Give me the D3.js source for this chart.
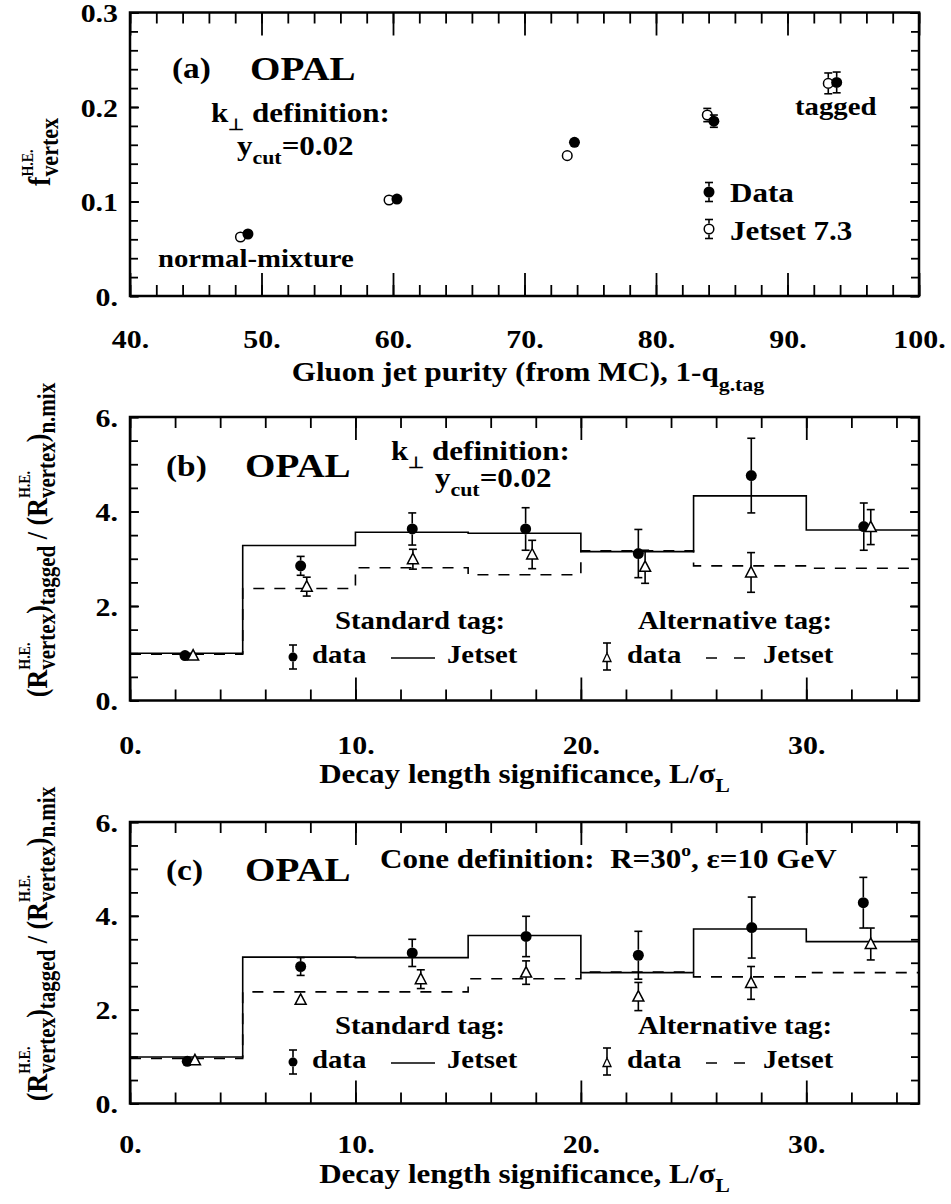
<!DOCTYPE html>
<html><head><meta charset="utf-8">
<script src="https://cdn.jsdelivr.net/npm/d3@7"></script>
<style>
body{margin:0;background:#fff}
svg text{font-family:"Liberation Serif","Times New Roman",Times,serif;font-weight:bold;fill:#000;white-space:pre}
</style>
</head><body>
<svg id="c" width="951" height="1204"></svg>
<script>
// ---------------- DATA ----------------
// Panel (a): fraction of high-energy vertices vs gluon jet purity
const purityDataX = [48.97, 60.3, 73.8, 84.4, 93.74];
const purityDataY = [0.0656, 0.1026, 0.1626, 0.185, 0.226];
const purityDataErr = [0.002, 0.002, 0.002, 0.0065, 0.011];
const purityMcX = [48.4, 59.7, 73.25, 83.9, 93.1];
const purityMcY = [0.0624, 0.1016, 0.1485, 0.1915, 0.225];
const purityMcErr = [0.002, 0.002, 0.002, 0.007, 0.011];
const purityTicks = [40, 50, 60, 70, 80, 90, 100];
const fracTicks = [0, 0.1, 0.2, 0.3];

// Panels (b),(c): decay length significance bins
const binEdges = [0, 5, 10, 15, 20, 25, 30, 35];
const decayTicks = [0, 10, 20, 30];
const ratioTicks = [0, 2, 4, 6];

// (b) k_perp definition
const bStdJetset = [1.0, 3.28, 3.56, 3.54, 3.15, 4.33, 3.61];
const bAltJetset = [0.98, 2.37, 2.81, 2.66, 3.17, 2.85, 2.80];
const bStdX = [2.44, 7.57, 12.52, 17.55, 22.55, 27.56, 32.55];
const bStdY = [0.95, 2.85, 3.63, 3.63, 3.11, 4.76, 3.68];
const bStdErr = [0.05, 0.2, 0.34, 0.45, 0.51, 0.79, 0.5];
const bAltX = [2.8, 7.84, 12.55, 17.84, 22.85, 27.55, 32.86];
const bAltY = [0.95, 2.41, 2.99, 3.09, 2.83, 2.71, 3.67];
const bAltErr = [0.05, 0.2, 0.21, 0.3, 0.35, 0.42, 0.37];

// (c) cone definition
const cStdJetset = [0.99, 3.12, 3.11, 3.58, 2.79, 3.72, 3.45];
const cAltJetset = [0.96, 2.38, 2.38, 2.66, 2.80, 2.70, 2.79];
const cStdX = [2.54, 7.57, 12.52, 17.57, 22.55, 27.58, 32.53];
const cStdY = [0.90, 2.92, 3.21, 3.56, 3.16, 3.75, 4.28];
const cStdErr = [0.04, 0.19, 0.29, 0.43, 0.51, 0.65, 0.54];
const cAltX = [2.88, 7.57, 12.9, 17.57, 22.55, 27.55, 32.86];
const cAltY = [0.92, 2.21, 2.65, 2.79, 2.28, 2.57, 3.40];
const cAltErr = [0.04, 0.1, 0.2, 0.25, 0.3, 0.35, 0.34];

// ---------------- DRAWING ----------------
const SX = 1.15;
const svg = d3.select("#c");
svg.append("rect").attr("width", 951).attr("height", 1204).attr("fill", "#fff");

function rich(parent, x, y, segs, opt = {}) {
  const rot = opt.rotate || 0, anchor = opt.anchor || "start";
  const sx = opt.sx !== undefined ? opt.sx : SX, sy = opt.sy !== undefined ? opt.sy : 1;
  const g = parent.append("g").attr("transform", `translate(${x},${y}) rotate(${rot}) scale(${sx},${sy})`);
  let cx = 0, prevStart = 0, prevW = 0;
  const items = [];
  segs.forEach(s => {
    const t = g.append("text").attr("font-size", s.s).attr("y", s.dy || 0).text(s.t);
    const w = t.node().getComputedTextLength();
    if (s.stack) { t.attr("x", prevStart); const adv = Math.max(prevW, w); cx = prevStart + adv; prevW = adv; }
    else { t.attr("x", cx); prevStart = cx; prevW = w; cx += w; }
    items.push(t);
  });
  const off = anchor === "middle" ? -cx / 2 : anchor === "end" ? -cx : 0;
  items.forEach(t => t.attr("x", +t.attr("x") + off));
  return g;
}

function range(a, b, s) { const r = []; for (let v = a; v <= b + 1e-9; v += s) r.push(+v.toFixed(6)); return r; }

function frame(xs, ys, xMajor, xMinor, yMajor, yMinor, xFmt, yFmt, labelOff) {
  const [x0, x1] = xs.range(); const [yb, yt] = ys.range();
  const g = svg.append("g");
  const mk = (axis, tx, ty) => {
    const a = g.append("g").attr("transform", `translate(${tx},${ty})`).call(axis);
    a.select(".domain").remove();
    a.selectAll("line").attr("stroke", "#000").attr("stroke-width", 1.8);
    return a;
  };
  mk(d3.axisBottom(xs).tickValues(xMinor).tickSize(-11).tickFormat(""), 0, yb);
  const bx = mk(d3.axisBottom(xs).tickValues(xMajor).tickSize(-23).tickFormat(xFmt), 0, yb);
  bx.selectAll("text").attr("y", 0).attr("dy", null).attr("font-size", 26)
    .attr("transform", `translate(0,${labelOff}) scale(${SX},1)`);
  mk(d3.axisTop(xs).tickValues(xMinor).tickSize(-11).tickFormat(""), 0, yt);
  mk(d3.axisTop(xs).tickValues(xMajor).tickSize(-23).tickFormat(""), 0, yt);
  mk(d3.axisLeft(ys).tickValues(yMinor).tickSize(-8).tickFormat(""), x0, 0);
  const ly = mk(d3.axisLeft(ys).tickValues(yMajor).tickSize(-9).tickFormat(yFmt), x0, 0);
  ly.selectAll("text").attr("x", 0).attr("dy", "0.35em").attr("font-size", 26)
    .attr("transform", `translate(-12,0) scale(${SX},1)`);
  mk(d3.axisRight(ys).tickValues(yMinor).tickSize(-8).tickFormat(""), x1, 0);
  mk(d3.axisRight(ys).tickValues(yMajor).tickSize(-9).tickFormat(""), x1, 0);
  g.append("rect").attr("x", x0).attr("y", yt).attr("width", x1 - x0).attr("height", yb - yt)
    .attr("fill", "none").attr("stroke", "#000").attr("stroke-width", 2.5);
}

function errBar(g, px, py, top, bot, rt, rb) {
  const cap = 4;
  if (py - top > rt + 0.5) {
    g.append("line").attr("x1", px).attr("x2", px).attr("y1", py - rt).attr("y2", top).attr("stroke", "#000").attr("stroke-width", 1.6);
    g.append("line").attr("x1", px - cap).attr("x2", px + cap).attr("y1", top).attr("y2", top).attr("stroke", "#000").attr("stroke-width", 1.6);
  }
  if (bot - py > rb + 0.5) {
    g.append("line").attr("x1", px).attr("x2", px).attr("y1", py + rb).attr("y2", bot).attr("stroke", "#000").attr("stroke-width", 1.6);
    g.append("line").attr("x1", px - cap).attr("x2", px + cap).attr("y1", bot).attr("y2", bot).attr("stroke", "#000").attr("stroke-width", 1.6);
  }
}
function circlePts(xs, ys, X, Y, E, filled, r) {
  const g = svg.append("g");
  X.forEach((xv, i) => {
    const px = xs(xv), py = ys(Y[i]);
    errBar(g, px, py, ys(Y[i] + E[i]), ys(Y[i] - E[i]), r, r);
    g.append("circle").attr("cx", px).attr("cy", py).attr("r", filled ? r : r - 0.7)
      .attr("fill", filled ? "#000" : "#fff").attr("stroke", "#000").attr("stroke-width", filled ? 0 : 1.5);
  });
}
function triPts(xs, ys, X, Y, E) {
  const g = svg.append("g");
  X.forEach((xv, i) => {
    const px = xs(xv), py = ys(Y[i]);
    errBar(g, px, py, ys(Y[i] + E[i]), ys(Y[i] - E[i]), 6, 4.5);
    g.append("path").attr("d", `M${px},${py - 6}L${px - 5.5},${py + 4.5}L${px + 5.5},${py + 4.5}Z`)
      .attr("fill", "#fff").attr("stroke", "#000").attr("stroke-width", 1.5);
  });
}
function hist(xs, ys, vals, dashed) {
  const pts = binEdges.map((e, i) => [e, vals[Math.min(i, vals.length - 1)]]);
  svg.append("path").attr("d", d3.line().x(d => xs(d[0])).y(d => ys(d[1])).curve(d3.curveStepAfter)(pts))
    .attr("fill", "none").attr("stroke", "#000").attr("stroke-width", 1.6)
    .attr("stroke-dasharray", dashed ? "11,10" : null);
}

const fmt0 = v => (v === 0 ? "0." : (Number.isInteger(v) ? v + "." : String(v)));

// ---------- Panel (a) ----------
const aX = d3.scaleLinear().domain([40, 100]).range([130, 919]);
const aY = d3.scaleLinear().domain([0, 0.3]).range([296, 12.5]);
frame(aX, aY, purityTicks, range(40, 100, 2), fracTicks, range(0, 0.3, 0.02), fmt0, fmt0, 52);
circlePts(aX, aY, purityMcX, purityMcY, purityMcErr, false, 5.5);
circlePts(aX, aY, purityDataX, purityDataY, purityDataErr, true, 5.5);
rich(svg, 172, 78, [{ t: "(a)", s: 29 }]);
rich(svg, 250, 80, [{ t: "OPAL", s: 34 }]);
rich(svg, 211, 122, [{ t: "k", s: 27 }, { t: "⊥", s: 16, dy: 8 }, { t: " definition:", s: 27 }]);
rich(svg, 237, 155, [{ t: "y", s: 27 }, { t: "cut", s: 19, dy: 9 }, { t: "=0.02", s: 27 }]);
rich(svg, 158, 267, [{ t: "normal-mixture", s: 25 }]);
rich(svg, 795, 115, [{ t: "tagged", s: 25 }]);
{
  const lg = svg.append("g");
  errBar(lg, 709, 192, 182.5, 201.5, 5.5, 5.5);
  lg.append("circle").attr("cx", 709).attr("cy", 192).attr("r", 5.5).attr("fill", "#000");
  errBar(lg, 709, 229, 219.5, 238.5, 5.5, 5.5);
  lg.append("circle").attr("cx", 709).attr("cy", 229).attr("r", 4.8).attr("fill", "#fff").attr("stroke", "#000").attr("stroke-width", 1.5);
  rich(svg, 730, 202, [{ t: "Data", s: 27 }]);
  rich(svg, 730, 240, [{ t: "Jetset 7.3", s: 27 }]);
}
rich(svg, 528, 381, [{ t: "Gluon jet purity (from MC), 1-q", s: 27 }, { t: "g.tag", s: 19, dy: 10 }], { anchor: "middle" });
rich(svg, 50, 152, [{ t: "f", s: 28 }, { t: "H.E.", s: 14, dy: -15 }, { t: "vertex", s: 22, dy: 7, stack: true }],
  { rotate: -90, anchor: "middle", sx: 1, sy: SX });

// ---------- Panels (b) and (c) ----------
function ratioPanel(top, bottom, stdJ, altJ, sX, sY, sE, tX, tY, tE, yLabCenter, tickOff, titleOff) {
  const xs = d3.scaleLinear().domain([0, 35]).range([130, 919]);
  const ys = d3.scaleLinear().domain([0, 6]).range([bottom, top]);
  frame(xs, ys, decayTicks, range(0, 35, 2), ratioTicks, range(0, 6, 0.5), fmt0, fmt0, tickOff);
  hist(xs, ys, altJ, true);
  hist(xs, ys, stdJ, false);
  circlePts(xs, ys, sX, sY, sE, true, 5.5);
  triPts(xs, ys, tX, tY, tE);
  // legend
  const o = top - 417;
  rich(svg, 335, 629 + o, [{ t: "Standard tag:", s: 25 }]);
  rich(svg, 638, 629 + o, [{ t: "Alternative tag:", s: 25 }]);
  const lg = svg.append("g");
  errBar(lg, 293, 657 + o, 645 + o, 669 + o, 4.5, 4.5);
  lg.append("circle").attr("cx", 293).attr("cy", 657 + o).attr("r", 4.5).attr("fill", "#000");
  rich(svg, 312, 663 + o, [{ t: "data", s: 25 }]);
  lg.append("line").attr("x1", 391).attr("x2", 435).attr("y1", 658 + o).attr("y2", 658 + o).attr("stroke", "#000").attr("stroke-width", 1.6);
  rich(svg, 447, 663 + o, [{ t: "Jetset", s: 25 }]);
  errBar(lg, 607, 658 + o, 643 + o, 670 + o, 5, 3.5);
  lg.append("path").attr("d", `M607,${653 + o}L603,${661.5 + o}L611,${661.5 + o}Z`).attr("fill", "#fff").attr("stroke", "#000").attr("stroke-width", 1.3);
  rich(svg, 627, 663 + o, [{ t: "data", s: 25 }]);
  lg.append("line").attr("x1", 706).attr("x2", 746).attr("y1", 658 + o).attr("y2", 658 + o).attr("stroke", "#000").attr("stroke-width", 1.6).attr("stroke-dasharray", "11,17");
  rich(svg, 763, 663 + o, [{ t: "Jetset", s: 25 }]);
  // axis titles
  rich(svg, 524.5, bottom + titleOff, [{ t: "Decay length significance, L/σ", s: 27 }, { t: "L", s: 19, dy: 9 }], { anchor: "middle" });
  rich(svg, 47, yLabCenter, [
    { t: "(R", s: 26 }, { t: "H.E.", s: 14, dy: -15 }, { t: "vertex", s: 21, dy: 7, stack: true },
    { t: ")", s: 26 }, { t: "tagged", s: 21, dy: 7 },
    { t: " / (R", s: 26 }, { t: "H.E.", s: 14, dy: -15 }, { t: "vertex", s: 21, dy: 7, stack: true },
    { t: ")", s: 26 }, { t: "n.mix", s: 21, dy: 7 }
  ], { rotate: -90, anchor: "middle", sx: 1, sy: SX });
  return { xs, ys };
}

ratioPanel(417, 700.5, bStdJetset, bAltJetset, bStdX, bStdY, bStdErr, bAltX, bAltY, bAltErr, 540, 53.5, 82.5);
rich(svg, 166, 476, [{ t: "(b)", s: 29 }]);
rich(svg, 245, 477, [{ t: "OPAL", s: 34 }]);
rich(svg, 391, 460, [{ t: "k", s: 27 }, { t: "⊥", s: 16, dy: 8 }, { t: " definition:", s: 27 }]);
rich(svg, 435, 487, [{ t: "y", s: 27 }, { t: "cut", s: 19, dy: 9 }, { t: "=0.02", s: 27 }]);

ratioPanel(822, 1103.5, cStdJetset, cAltJetset, cStdX, cStdY, cStdErr, cAltX, cAltY, cAltErr, 944, 49.5, 79.5);
rich(svg, 166, 880, [{ t: "(c)", s: 29 }]);
rich(svg, 245, 881, [{ t: "OPAL", s: 34 }]);
rich(svg, 380, 868, [{ t: "Cone definition:  R=30", s: 27 }, { t: "o", s: 17, dy: -12 }, { t: ", ε=10 GeV", s: 27 }]);
</script>
</body></html>
